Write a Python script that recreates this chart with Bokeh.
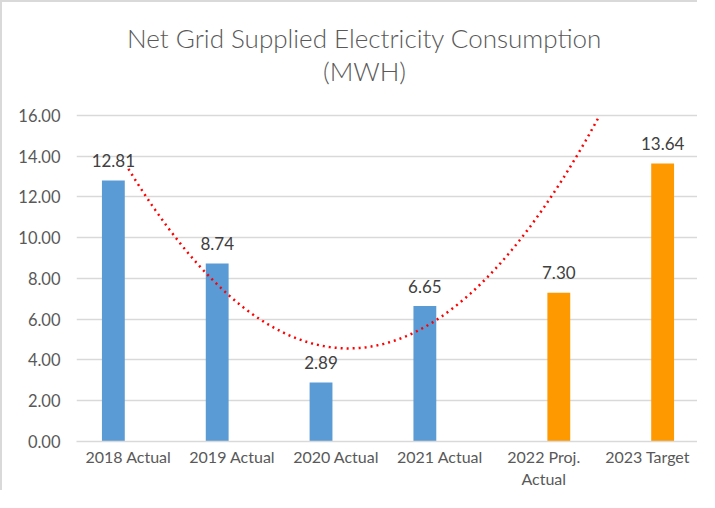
import numpy as np
from bokeh.plotting import figure
from bokeh.models import Range1d, FixedTicker, NumeralTickFormatter, Label, ColumnDataSource
from bokeh.embed import file_html
from bokeh.resources import INLINE

title_lines = ["Net Grid Supplied Electricity Consumption", "(MWH)"]
categories = ["2018 Actual", "2019 Actual", "2020 Actual", "2021 Actual", "2022 Proj.\nActual", "2023 Target"]
actual_values = [12.81, 8.74, 2.89, 6.65]
target_values = [7.30, 13.64]
y_ticks = [0, 2, 4, 6, 8, 10, 12, 14, 16]

FONT = "Lato"
TITLE_FONT = "'Lato Light', Lato"
TXT = "#595959"
Y_AXIS_MAX = 16

x_all = list(range(1, len(categories) + 1))
x_act = x_all[:len(actual_values)]
x_tgt = x_all[len(actual_values):]

# frame extends to the top of the canvas so the title can sit above the 16.00 line
y_top = 21.546
p = figure(width=697, height=490, output_backend="svg", toolbar_location=None, title=None,
           x_range=Range1d(0.5, 6.5), y_range=Range1d(0, y_top),
           min_border_left=74, min_border_right=0, min_border_top=0, min_border_bottom=51)
p.outline_line_color = None
p.background_fill_color = "white"
p.border_fill_color = "white"
p.styles = {"border-top": "2px solid #D9D9D9", "border-left": "2px solid #D9D9D9"}

# bars
off = 0.145
bw = 0.22
src_a = ColumnDataSource(dict(x=[v - off for v in x_act], top=actual_values,
                              lbl=["%.2f" % v for v in actual_values]))
src_t = ColumnDataSource(dict(x=[v + off for v in x_tgt], top=target_values,
                              lbl=["%.2f" % v for v in target_values]))
p.vbar(x="x", top="top", width=bw, bottom=0, source=src_a, fill_color="#5B9BD5", line_color=None)
p.vbar(x="x", top="top", width=bw, bottom=0, source=src_t, fill_color="#FF9900", line_color=None)

for s in (src_a, src_t):
    p.text(x="x", y="top", text="lbl", source=s, text_align="center", text_baseline="alphabetic",
           y_offset=-20, text_color="#404040", text_font_size="17px", text_font={"value": FONT})

# polynomial (order 2) trendline of the actual series, cut where it leaves the 0-16 axis
coef = np.polyfit(x_act, actual_values, 2)
c2 = coef.copy()
c2[-1] -= Y_AXIS_MAX
roots = np.roots(c2)
x_end = float(max(r.real for r in roots if abs(r.imag) < 1e-9))
x_end = min(x_end, x_all[-1])
xs = np.linspace(x_act[0], x_end, 300)
ys = np.polyval(coef, xs)
p.line(xs, ys, line_color="#FF0000", line_width=2.5, line_dash="2 4")

# title
p.add_layout(Label(x=3.274, y=19.78, text=title_lines[0], text_align="center", text_baseline="middle",
                   text_font=TITLE_FONT, text_font_size="26px", text_color=TXT))
p.add_layout(Label(x=3.274, y=18.16, text=title_lines[1], text_align="center", text_baseline="middle",
                   text_font=TITLE_FONT, text_font_size="26px", text_color=TXT))

# axes
p.yaxis.ticker = FixedTicker(ticks=y_ticks)
p.yaxis.formatter = NumeralTickFormatter(format="0.00")
p.yaxis.axis_line_color = None
p.yaxis.major_tick_line_color = None
p.yaxis.minor_tick_line_color = None
p.yaxis.major_label_standoff = 10
p.yaxis.major_label_text_font = FONT
p.yaxis.major_label_text_font_size = "16.5px"
p.yaxis.major_label_text_color = TXT

p.xaxis.ticker = FixedTicker(ticks=x_all)
p.xaxis.major_label_overrides = {x: c for x, c in zip(x_all, categories)}
p.xaxis.axis_line_color = "#D9D9D9"
p.xaxis.axis_line_width = 1.5
p.xaxis.major_tick_line_color = None
p.xaxis.minor_tick_line_color = None
p.xaxis.major_tick_out = 0
p.xaxis.major_tick_in = 0
p.xaxis.major_label_standoff = 5
p.xaxis.major_label_text_font = FONT
p.xaxis.major_label_text_font_size = "16px"
p.xaxis.major_label_text_color = TXT

p.xgrid.grid_line_color = None
p.ygrid.grid_line_color = "#D9D9D9"
p.ygrid.grid_line_width = 1.5

open("out.html", "w").write(file_html(p, INLINE))
